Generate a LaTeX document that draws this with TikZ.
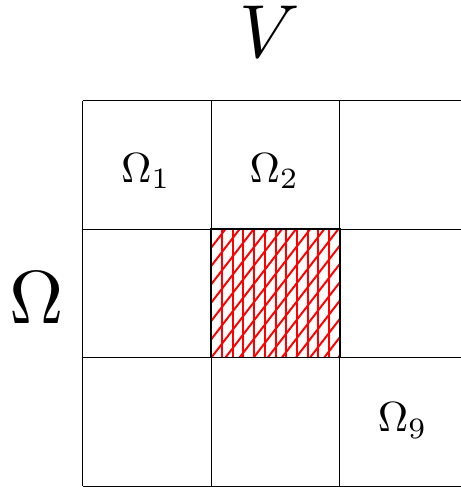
\documentclass[tikz,border=0pt]{standalone}
\usepackage{amsmath, amssymb}
\usepackage{tikz}
\usetikzlibrary{positioning, calc}
\tikzset{
  gridline/.style={draw=black, line width=0.6pt},
  hatchline/.style={draw=red, line width=1.3pt},
  hatchborder/.style={draw=black, line width=1.2pt},
  biglabel/.style={inner sep=0pt, scale=5},
  celllabel/.style={inner sep=0pt, scale=2.8}
}

\begin{document}
\begin{tikzpicture}[x=3cm, y=3cm]
    \useasboundingbox (-0.646, -0.008) rectangle (2.944, 3.785);

    % --- HATCHED CELL (middle) ---
    \begin{scope}
      \clip (1, 1) rectangle (2, 2);
      \foreach \i in {0,...,12} {
        \draw[hatchline] (1+\i/12, 1) -- (1+\i/12, 2);
      }
      \foreach \j in {-9,...,7} {
        \draw[hatchline] (1, 1+\j/7) -- (2, 1+\j/7+1.3);
      }
    \end{scope}

    % --- GRID 3x3 ---
    \foreach \k in {0,...,3} {
      \draw[gridline] (\k, 0) -- (\k, 3);
      \draw[gridline] (0, \k) -- (3, \k);
    }
    \draw[hatchborder] (1, 1) rectangle (2, 2);

    % --- LABELS ---
    \node[biglabel] (vlabel) at (1.456, 3.54) {$V$};
    \node[biglabel] (omegalabel) at (-0.36, 1.464) {$\Omega$};
    \node[celllabel] (omega1) at (0.49, 2.45) {$\Omega_1$};
    \node[celllabel] (omega2) at (1.49, 2.45) {$\Omega_2$};
    \node[celllabel] (omega9) at (2.49, 0.51) {$\Omega_9$};
\end{tikzpicture}
\end{document}
